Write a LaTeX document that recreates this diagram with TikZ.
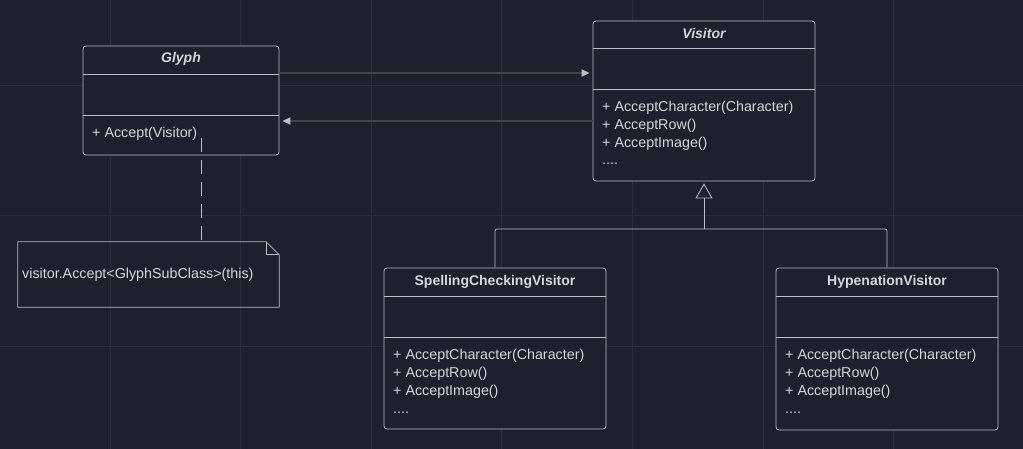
\documentclass[tikz,border=0pt]{standalone}
\usepackage{fontspec}
\setmainfont{Liberation Sans}
\usetikzlibrary{arrows.meta,positioning}

\definecolor{canvas}{HTML}{1F1F2E}
\definecolor{gridcol}{HTML}{2D2D3B}
\definecolor{strokecol}{HTML}{BDBDC2}
\definecolor{inkcol}{HTML}{D6D6DA}
\definecolor{linkcol}{HTML}{42424B}

\begin{document}
\begin{tikzpicture}[
x=1pt, y=-1pt,
font=\fontsize{14.3}{17}\selectfont,
classbox/.style={draw=strokecol, line width=0.8pt, rounded corners=3pt, fill=canvas, inner sep=0pt},
divider/.style={draw=strokecol, line width=0.8pt},
title/.style={text=inkcol, font=\fontsize{14}{17}\selectfont\bfseries},
abstract/.style={text=inkcol, font=\fontsize{14}{17}\selectfont\bfseries\itshape},
member/.style={text=inkcol, anchor=base west, inner sep=0pt},
assoc/.style={-{Triangle[length=8pt,width=7pt,color=strokecol]}, draw=linkcol, line width=1.8pt, shorten >=3pt},
realize/.style={draw=strokecol, line width=0.8pt, dash pattern=on 14pt off 8pt},
inherit/.style={draw=strokecol, line width=0.8pt, rounded corners=2pt},
]
    % Draw background and grid
    \fill[canvas] (0,0) rectangle (1023,449);
    \useasboundingbox (0,0) rectangle (1023,449);
    \foreach \gx in {110,240.6,...,1023} \draw[gridcol, line width=0.8pt] (\gx,0) -- (\gx,449);
    \foreach \gy in {85,215.6,...,449} \draw[gridcol, line width=0.8pt] (0,\gy) -- (1023,\gy);

    % Glyph
    \node[classbox, minimum width=196pt, minimum height=109pt] (glyph) at (181,100.5) {};
    \draw[divider] (glyph.west |- 0,74) -- (glyph.east |- 0,74);
    \draw[divider] (glyph.west |- 0,115) -- (glyph.east |- 0,115);
    \node[abstract] (glyphname) at (glyph.north |- 0,59) {Glyph};
    \node[member] (glyphop) at (92,138) {+ Accept(Visitor)};

    % Visitor
    \node[classbox, minimum width=222pt, minimum height=160pt] (visitor) at (704,101) {};
    \draw[divider] (visitor.west |- 0,48) -- (visitor.east |- 0,48);
    \draw[divider] (visitor.west |- 0,89) -- (visitor.east |- 0,89);
    \node[abstract] (visitorname) at (visitor.north |- 0,33) {Visitor};
    \foreach \op [count=\i] in {+ AcceptCharacter(Character), + AcceptRow(), + AcceptImage()}
        \node[member] (visitorop\i) at (602,94+17.8*\i) {\op};
    \node[member] (visitoretc) at (602,165) {....};

    % SpellingCheckingVisitor
    \node[classbox, minimum width=222pt, minimum height=161pt] (spelling) at (495,348.5) {};
    \draw[divider] (spelling.west |- 0,296) -- (spelling.east |- 0,296);
    \draw[divider] (spelling.west |- 0,337) -- (spelling.east |- 0,337);
    \node[title] (spellingname) at (spelling.north |- 0,282) {SpellingCheckingVisitor};
    \foreach \op [count=\i] in {+ AcceptCharacter(Character), + AcceptRow(), + AcceptImage()}
        \node[member] (spellingop\i) at (393,342+17.8*\i) {\op};
    \node[member] (spellingetc) at (393,413) {....};

    % HypenationVisitor
    \node[classbox, minimum width=222pt, minimum height=162pt] (hyphen) at (887,349) {};
    \draw[divider] (hyphen.west |- 0,296) -- (hyphen.east |- 0,296);
    \draw[divider] (hyphen.west |- 0,337) -- (hyphen.east |- 0,337);
    \node[title] (hyphenname) at (hyphen.north |- 0,282) {HypenationVisitor};
    \foreach \op [count=\i] in {+ AcceptCharacter(Character), + AcceptRow(), + AcceptImage()}
        \node[member] (hyphenop\i) at (785,342+17.8*\i) {\op};
    \node[member] (hyphenetc) at (785,413) {....};

    % Note
    \node[minimum width=261pt, minimum height=65pt, inner sep=0pt] (note) at (148.5,274.5) {};
    \draw[divider] (note.north west) -- ([xshift=-13pt]note.north east) -- ([yshift=-13pt]note.north east)
        -- (note.south east) -- (note.south west) -- cycle;
    \draw[divider] ([xshift=-13pt]note.north east) |- ([yshift=-13pt]note.north east);
    \node[member] (notetext) at (22,278) {visitor.Accept<GlyphSubClass>(this)};
    \coordinate (hook) at (201,138);
    \draw[realize] (hook) -- (hook |- note.north);

    % Associations
    \draw[assoc] (glyph.east |- 0,73) -- (visitor.west |- 0,73);
    \draw[assoc] (visitor.west |- 0,121) -- (glyph.east |- 0,121);

    % Inheritance
    \coordinate (branch) at (704,229);
    \draw[inherit] (spelling.north) |- (branch);
    \draw[inherit] (hyphen.north) |- (branch);
    \draw[inherit, -{Triangle[open, length=15pt, width=17pt, fill=canvas]}, shorten >=2pt] (branch) -- (visitor.south);
\end{tikzpicture}
\end{document}
